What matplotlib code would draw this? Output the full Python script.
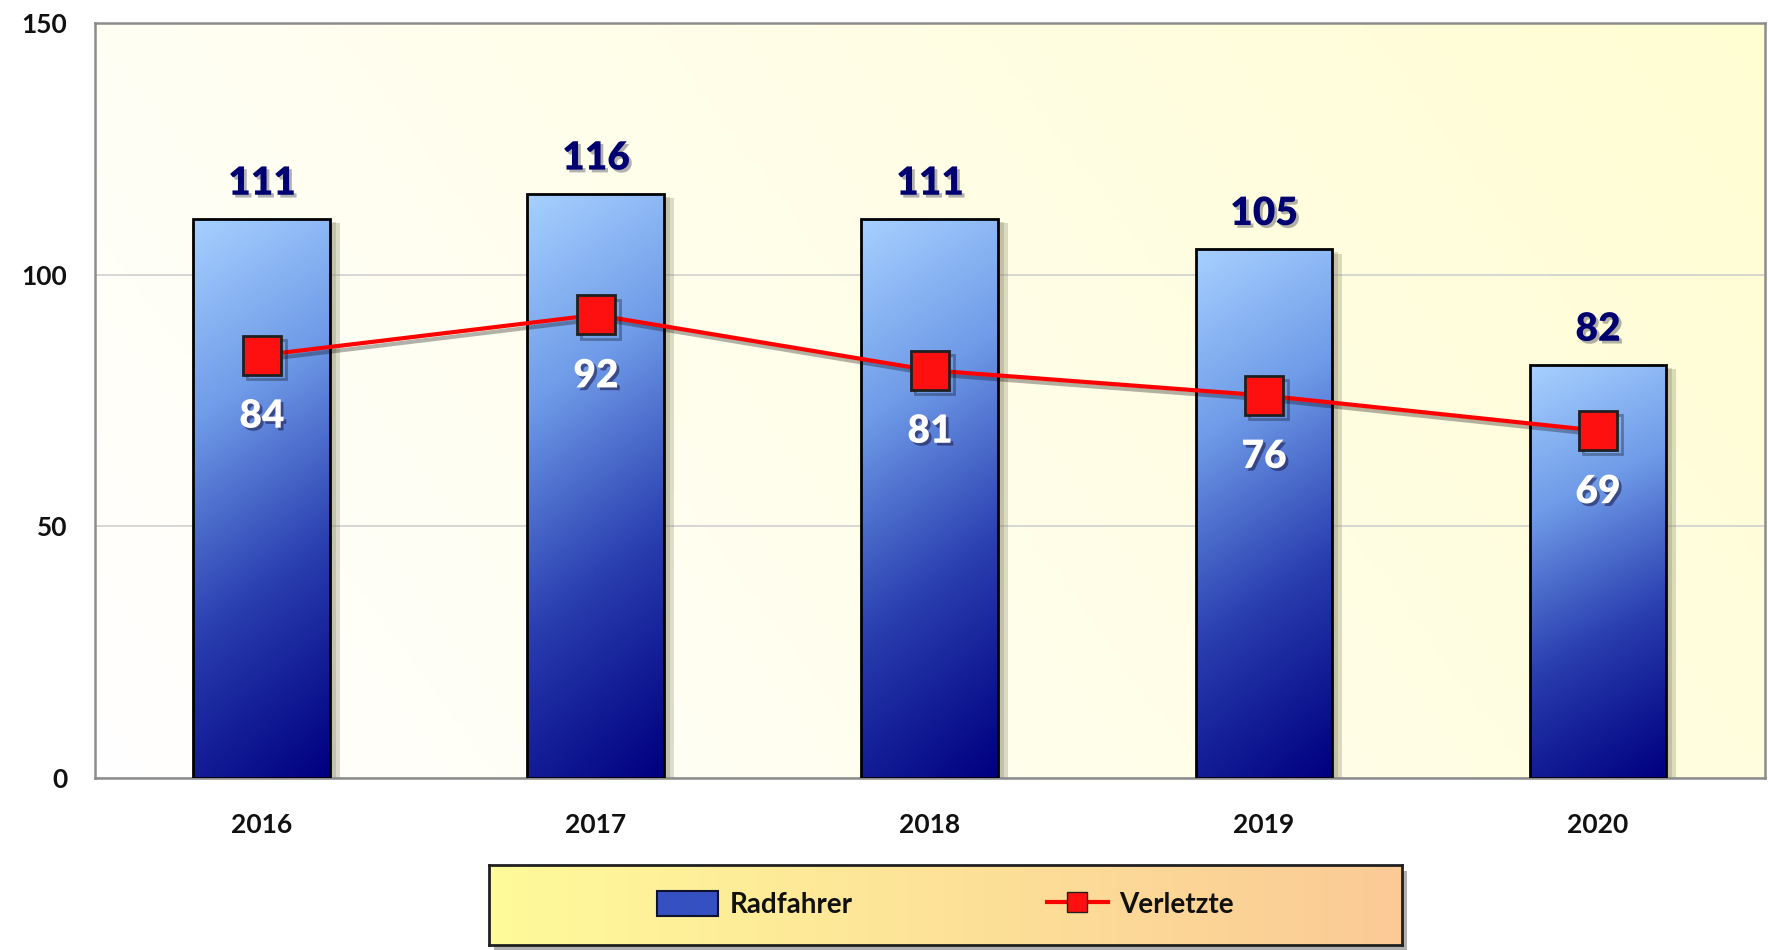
import numpy as np
import matplotlib
matplotlib.use('Agg')
import matplotlib.pyplot as plt
import matplotlib.patheffects as pe
from matplotlib.colors import LinearSegmentedColormap
from matplotlib.patches import Patch
from matplotlib.lines import Line2D

plt.rcParams['font.family'] = ['Lato', 'DejaVu Sans']
plt.rcParams['font.weight'] = 'bold'

# Daten
jahre = ['2016', '2017', '2018', '2019', '2020']
radfahrer = [111, 116, 111, 105, 82]
verletzte = [84, 92, 81, 76, 69]

fig = plt.figure(figsize=(17.68, 9.5), dpi=100)
ax = fig.add_axes([0.0537, 0.1811, 0.9446, 0.7947])

x = np.arange(len(jahre))
breite = 0.41

# Hintergrund mit Verlauf (weiss -> hellgelb)
bg_cmap = LinearSegmentedColormap.from_list('bg', ['#ffffff', '#fffdd2'])
gx, gy = np.meshgrid(np.linspace(0, 1, 300), np.linspace(0, 1, 200))
ax.imshow(0.75 * gx + 0.25 * gy, cmap=bg_cmap, extent=[-0.5, 4.5, 0, 150],
          origin='lower', aspect='auto', zorder=0, vmin=0, vmax=1)

ax.set_xlim(-0.5, 4.5)
ax.set_ylim(0, 150)
ax.set_yticks([0, 50, 100, 150])
ax.yaxis.grid(True, color='#d0d0d0', linewidth=1.2, zorder=1)
ax.set_axisbelow(True)
for s in ax.spines.values():
    s.set_color('#8c8c8c')
    s.set_linewidth(1.8)

# Balken mit Schatten
bars = ax.bar(x, radfahrer, width=breite, color='#1a2a9a', zorder=2,
              path_effects=[pe.SimplePatchShadow(offset=(7, -3), shadow_rgbFace='#8a8a6a', alpha=0.3),
                            pe.SimplePatchShadow(offset=(4, -2), shadow_rgbFace='#8a8a6a', alpha=0.3),
                            pe.Normal()])

bar_cmap = LinearSegmentedColormap.from_list('bar', ['#000080', '#2a3fb0', '#6f9be8', '#a6d0ff'])
for b in bars:
    bx, by = b.get_x(), b.get_y()
    bw, bh = b.get_width(), b.get_height()
    hx, vy = np.meshgrid(np.linspace(0, 1, 60), np.linspace(0, 1, 200))
    grad = vy ** 1.1 * 0.85 + (1 - hx) * 0.15
    im = ax.imshow(grad, cmap=bar_cmap, extent=[bx, bx + bw, 0, bh], origin='lower',
                   aspect='auto', zorder=3, vmin=0, vmax=1)
    im.set_clip_path(b)
ax.bar(x, radfahrer, width=breite, fill=False, edgecolor='black', linewidth=2, zorder=4)

# Linie Verletzte
ax.plot(x, verletzte, color='#ff0000', linewidth=3, marker='s', markersize=28,
        markerfacecolor='#ff1010', markeredgecolor='#202020', markeredgewidth=2, zorder=5,
        path_effects=[pe.SimpleLineShadow(offset=(3, -3), alpha=0.3), pe.Normal()])

for xi, v in zip(x, radfahrer):
    ax.annotate(str(v), (xi, v), xytext=(0, 36), textcoords='offset pixels',
                ha='center', va='center', fontsize=28, fontweight='heavy', color='#000070',
                path_effects=[pe.withSimplePatchShadow(offset=(2, -2), alpha=0.3)], zorder=6)
for xi, v in zip(x, verletzte):
    ax.annotate(str(v), (xi, v), xytext=(0, -61), textcoords='offset pixels',
                ha='center', va='center', fontsize=28, fontweight='heavy', color='white',
                path_effects=[pe.withSimplePatchShadow(offset=(2, -2), shadow_rgbFace='#202050', alpha=0.6)],
                zorder=6)

ax.set_xticks(x)
ax.set_xticklabels(jahre)
ax.tick_params(axis='both', length=0, labelsize=19, labelcolor='#111111')
ax.tick_params(axis='x', pad=25)
ax.tick_params(axis='y', pad=20)

# Legende mit Verlaufshintergrund
schatten = fig.add_axes([0.2766 + 0.003, 0.0053 - 0.006, 0.5164, 0.0842], zorder=1)
schatten.set_facecolor('#b0b0b0')
schatten.set_xticks([])
schatten.set_yticks([])
for s in schatten.spines.values():
    s.set_visible(False)
lax = fig.add_axes([0.2766, 0.0053, 0.5164, 0.0842], zorder=2)
leg_cmap = LinearSegmentedColormap.from_list('leg', ['#fffa9a', '#fbca96'])
lax.imshow(np.linspace(0, 1, 300).reshape(1, -1), cmap=leg_cmap, aspect='auto',
           extent=[0, 1, 0, 1])
lax.set_xticks([])
lax.set_yticks([])
for s in lax.spines.values():
    s.set_color('#202020')
    s.set_linewidth(2)
handles = [Patch(facecolor='#3550c0', edgecolor='#101030', linewidth=1.5, label='Radfahrer'),
           Line2D([0], [0], color='#ff0000', linewidth=3, marker='s', markersize=14,
                  markerfacecolor='#ff1010', markeredgecolor='#202020', label='Verletzte')]
lax.legend(handles=handles, loc='center', ncol=2, frameon=False, fontsize=20,
           columnspacing=7, handlelength=2.2, handleheight=1.0, handletextpad=0.4,
           labelcolor='#111111')

fig.savefig('out.png', dpi=100)
